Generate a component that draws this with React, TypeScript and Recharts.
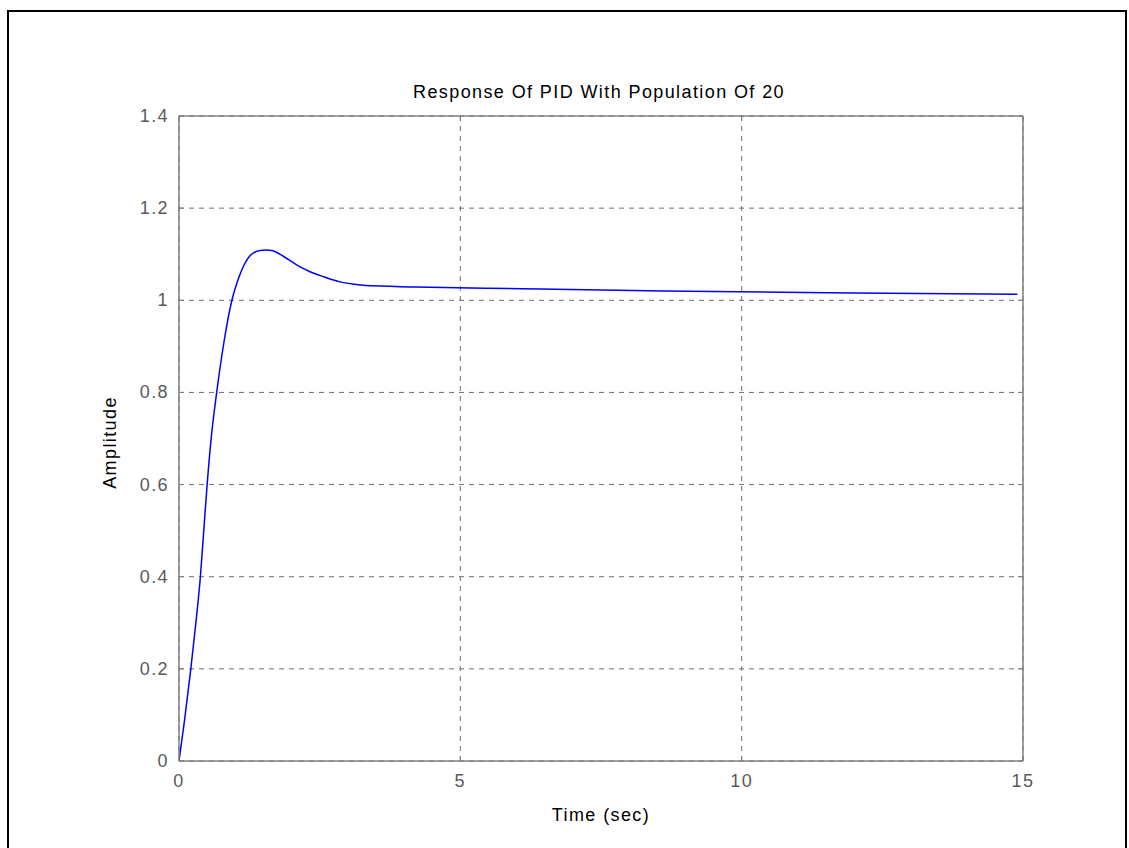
import React from 'react';
import { LineChart, Line, XAxis, YAxis, CartesianGrid } from 'recharts';

// closed-loop step response samples
const timeSec = [
  0, 0.1, 0.21, 0.3, 0.38, 0.44, 0.5, 0.58, 0.67, 0.8, 0.94, 1.05, 1.15, 1.29, 1.44, 1.55, 1.65,
  1.86, 2.09, 2.33, 2.57, 2.86, 3.1, 3.31, 4.2, 6.1, 8.6, 12, 14.9,
];
const amplitude = [
  0, 0.09, 0.2, 0.3, 0.4, 0.5, 0.6, 0.71, 0.8, 0.91, 1.0, 1.045, 1.075, 1.1, 1.108, 1.109, 1.108,
  1.095, 1.077, 1.062, 1.051, 1.04, 1.035, 1.032, 1.029, 1.025, 1.02, 1.016, 1.013,
];
const xTicks = [0, 5, 10, 15];
const yTicks = [0, 0.2, 0.4, 0.6, 0.8, 1, 1.2, 1.4];

const stepData = timeSec.map((t, i) => ({ t, y: amplitude[i] }));

const FONT = '"Liberation Sans", Arial, sans-serif';
const AXIS_GREY = '#808080';
const TICK_TEXT = '#5a5a5a';
const TICK_LEN = 5;

const textStyle = { letterSpacing: '1.4px' };

const BottomTick = ({ x, y, payload }: any) => (
  <g>
    <line x1={x} y1={y} x2={x} y2={y - TICK_LEN} stroke={AXIS_GREY} />
    <text x={x} y={y + 26} textAnchor="middle" fill={TICK_TEXT} fontSize={18} fontFamily={FONT} style={textStyle}>
      {payload.value}
    </text>
  </g>
);

const LeftTick = ({ x, y, payload }: any) => (
  <g>
    <line x1={x} y1={y} x2={x + TICK_LEN} y2={y} stroke={AXIS_GREY} />
    <text x={x - 10} y={y + 6} textAnchor="end" fill={TICK_TEXT} fontSize={18} fontFamily={FONT} style={textStyle}>
      {payload.value}
    </text>
  </g>
);

const TopTick = ({ x, y }: any) => (
  <line x1={x} y1={y} x2={x} y2={y + TICK_LEN} stroke={AXIS_GREY} />
);

const RightTick = ({ x, y }: any) => (
  <line x1={x} y1={y} x2={x - TICK_LEN} y2={y} stroke={AXIS_GREY} />
);

const axisLine = { stroke: AXIS_GREY, strokeWidth: 1.5 };
const labelStyle = { fill: '#000', fontSize: 18, fontFamily: FONT, letterSpacing: '1.4px' };

export default function App() {
  return (
    <div style={{ position: 'absolute', left: 0, top: 0, width: 1129, height: 848, background: '#fff' }}>
      <div
        style={{
          position: 'absolute',
          left: 7,
          top: 10,
          width: 1120,
          height: 838,
          boxSizing: 'border-box',
          border: '2px solid #000',
          borderBottom: 'none',
        }}
      />
      <div style={{ position: 'absolute', left: 0, top: 0 }}>
        <LineChart width={1129} height={848} data={stepData} margin={{ top: 115, right: 105, bottom: 27, left: 109 }}>
          <CartesianGrid stroke="#707070" strokeDasharray="5 5" />
          <XAxis
            dataKey="t"
            type="number"
            domain={[0, 15]}
            ticks={xTicks}
            height={60}
            tickSize={0}
            tickMargin={0}
            tickLine={false}
            axisLine={axisLine}
            tick={<BottomTick />}
            label={{ value: 'Time (sec)', position: 'insideBottom', offset: 0, style: labelStyle }}
          />
          <XAxis
            xAxisId="top"
            orientation="top"
            dataKey="t"
            type="number"
            domain={[0, 15]}
            ticks={xTicks}
            height={1}
            tickSize={0}
            tickMargin={0}
            tickLine={false}
            axisLine={axisLine}
            tick={<TopTick />}
            label={{ value: 'Response Of PID With Population Of 20', position: 'top', offset: 17, dx: -2, style: labelStyle }}
          />
          <YAxis
            type="number"
            domain={[0, 1.4]}
            ticks={yTicks}
            width={70}
            tickSize={0}
            tickMargin={0}
            tickLine={false}
            axisLine={axisLine}
            tick={<LeftTick />}
            label={{
              value: 'Amplitude',
              angle: -90,
              position: 'insideLeft',
              offset: 1,
              dy: 4,
              style: { ...labelStyle, textAnchor: 'middle' },
            }}
          />
          <YAxis
            yAxisId="right"
            orientation="right"
            type="number"
            domain={[0, 1.4]}
            ticks={yTicks}
            width={1}
            tickSize={0}
            tickMargin={0}
            tickLine={false}
            axisLine={axisLine}
            tick={<RightTick />}
          />
          {/* invisible series that keeps the box-edge axes mounted */}
          <Line
            xAxisId="top"
            yAxisId="right"
            dataKey="y"
            stroke="none"
            dot={false}
            activeDot={false}
            legendType="none"
            isAnimationActive={false}
          />
          <Line
            type="monotone"
            dataKey="y"
            stroke="#0000ff"
            strokeWidth={1.5}
            dot={false}
            activeDot={false}
            isAnimationActive={false}
          />
        </LineChart>
      </div>
    </div>
  );
}
